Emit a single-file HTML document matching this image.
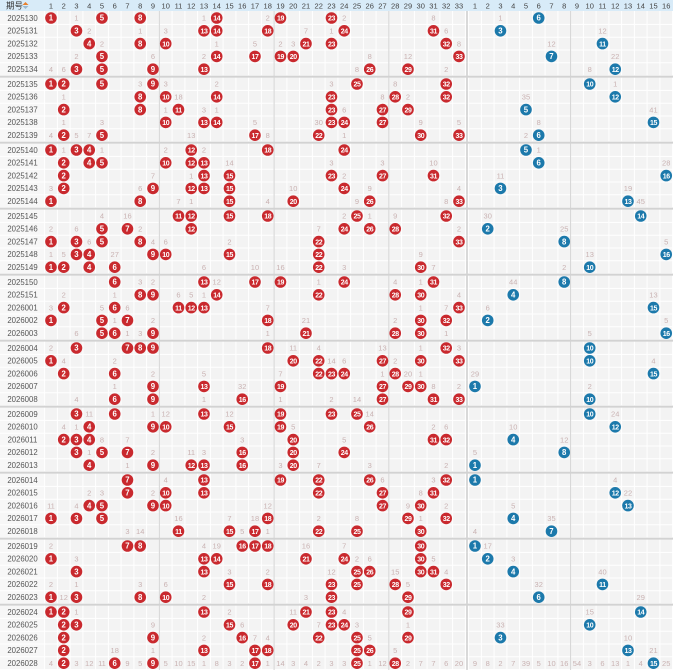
<!DOCTYPE html>
<html><head><meta charset="utf-8"><style>
html,body{margin:0;padding:0;background:#fff;}
svg{display:block;font-family:"Liberation Sans","Noto Sans CJK SC",sans-serif;}
</style></head><body>
<svg id="chart" width="686" height="670" viewBox="0 0 686 670" xmlns="http://www.w3.org/2000/svg"></svg>
<script>
const periods=["2025130","2025131","2025132","2025133","2025134","2025135","2025136","2025137","2025138","2025139","2025140","2025141","2025142","2025143","2025144","2025145","2025146","2025147","2025148","2025149","2025150","2025151","2026001","2026002","2026003","2026004","2026005","2026006","2026007","2026008","2026009","2026010","2026011","2026012","2026013","2026014","2026015","2026016","2026017","2026018","2026019","2026020","2026021","2026022","2026023","2026024","2026025","2026026","2026027","2026028"];
const reds=[[1,5,8,14,19,23],[3,13,14,18,24,31],[4,8,10,21,23,32],[5,14,17,19,20,33],[3,5,9,13,26,29],[1,2,5,9,25,32],[8,10,14,23,28,32],[2,8,11,23,27,29],[10,13,14,23,24,27],[2,5,17,22,30,33],
[1,3,4,12,18,24],[2,4,5,10,12,13],[2,13,15,23,27,31],[2,9,12,13,15,24],[1,8,15,20,26,33],[11,12,15,18,25,32],[5,7,12,24,26,28],[1,3,5,8,22,33],[3,4,9,10,15,22],[1,2,4,6,22,30],
[6,13,17,19,24,31],[8,9,14,22,28,30],[2,6,11,12,13,33],[1,5,7,18,30,32],[5,6,9,21,28,30],[3,7,8,9,18,32],[1,20,22,27,30,33],[2,6,22,23,24,28],[9,13,19,27,29,30],[6,9,16,27,31,33],
[3,6,13,19,23,25],[4,9,10,15,19,26],[2,3,4,20,31,32],[3,5,7,16,20,24],[4,9,12,13,16,20],[7,13,19,22,26,32],[7,10,13,22,27,31],[4,5,9,10,27,30],[1,3,5,18,29,32],[11,15,17,22,25,30],
[7,8,16,17,18,30],[1,13,14,21,24,30],[3,13,25,26,30,31],[15,18,23,25,28,32],[1,3,8,10,23,29],[1,2,13,21,23,29],[2,3,15,20,23,24],[2,9,16,22,25,29],[2,13,17,18,25,26],[2,6,9,17,25,28]];
const blues=[6,3,11,7,12,10,12,5,15,6,5,6,16,3,13,14,2,8,16,10,8,4,15,2,16,10,10,15,1,10,10,12,4,8,1,1,12,13,4,7,1,2,4,11,6,14,10,3,13,15];
const redMiss=[[[3,1],[13,1],[18,2],[24,2],[31,8]],[[4,2],[8,1],[10,3],[21,7],[23,1],[32,6]],[[5,2],[14,1],[17,5],[19,2],[20,3],[33,8]],[[3,2],[9,6],[13,2],[26,8],[29,12]],[[1,4],[2,6],[25,8],[32,2]],
[[8,3],[10,3],[14,2],[23,3],[28,8]],[[2,1],[11,18],[27,8],[29,2]],[[10,1],[13,3],[14,1],[24,6]],[[2,1],[5,3],[17,5],[22,30],[30,9],[33,5]],[[1,4],[3,5],[4,7],[12,13],[18,8],[24,1]],
[[2,1],[5,1],[10,2],[13,2]],[[15,14],[23,3],[27,3],[31,10]],[[9,7],[12,1],[24,2]],[[1,3],[8,6],[20,10],[26,9],[33,4]],[[11,7],[12,1],[18,4],[25,9],[32,8]],
[[5,4],[7,16],[24,2],[26,1],[28,9]],[[1,2],[3,6],[8,2],[22,7],[33,2]],[[4,6],[9,4],[10,6],[15,2]],[[1,1],[2,5],[6,27],[30,9]],[[13,6],[17,10],[19,16],[24,3],[31,7]],
[[8,3],[9,2],[14,12],[22,1],[28,4],[30,1]],[[2,2],[6,1],[11,6],[12,5],[13,1],[33,4]],[[1,3],[5,5],[7,6],[18,7],[30,1],[32,7]],[[6,1],[9,2],[21,21],[28,2]],[[3,6],[7,1],[8,3],[18,1],[32,1]],
[[1,2],[20,11],[22,4],[27,13],[30,1],[33,3]],[[2,4],[6,2],[23,14],[24,6],[28,2]],[[9,2],[13,5],[19,7],[27,1],[29,20],[30,1]],[[6,1],[16,32],[31,8],[33,2]],[[3,4],[13,1],[19,1],[23,2],[25,14]],
[[4,11],[9,1],[10,12],[15,12],[26,14]],[[2,4],[3,1],[20,5],[31,2],[32,6]],[[5,8],[7,7],[16,3],[24,5]],[[4,1],[9,2],[12,11],[13,3]],[[7,1],[19,3],[22,7],[26,3],[32,2]],
[[10,4],[27,6],[31,3]],[[4,2],[5,3],[9,2],[30,8]],[[1,11],[3,4],[18,12],[29,9],[32,2]],[[11,16],[15,7],[17,18],[22,2],[25,8],[30,1]],[[7,3],[8,14],[16,5],[18,1]],
[[1,2],[13,4],[14,19],[21,16],[24,7]],[[3,3],[25,2],[26,6],[31,5]],[[15,3],[18,2],[23,12],[28,15],[32,4]],[[1,2],[3,1],[8,3],[10,6],[29,5]],[[2,12],[13,2],[21,3]],
[[3,1],[15,2],[20,11],[24,4]],[[9,9],[16,6],[22,7],[25,3],[29,1]],[[13,2],[17,7],[18,4],[26,5]],[[6,18],[9,1],[28,5]],
[[1,4],[3,3],[4,12],[5,11],[7,9],[8,5],[10,5],[11,10],[12,15],[13,1],[14,8],[15,3],[16,2],[18,1],[19,14],[20,3],[21,4],[22,2],[23,3],[24,3],[26,1],[27,12],[29,2],[30,7],[31,7],[32,6],[33,20]]];
const blueMiss=[[[3,1]],[[11,12]],[[7,12]],[[12,22]],[[10,8]],[[12,1]],[[5,35]],[[15,41]],[[6,8]],[[5,2]],
[[6,1]],[[16,28]],[[3,11]],[[13,19]],[[14,45]],[[2,30]],[[8,25]],[[16,5]],[[10,13]],[[8,2]],
[[4,44]],[[15,13]],[[2,6]],[[16,5]],[[10,5]],[],[[15,4]],[[1,29]],[[10,2]],[],
[[12,24]],[[4,10]],[[8,12]],[[1,5]],[],[[12,4]],[[13,22]],[[4,5]],[[7,35]],[[1,4]],
[[2,17]],[[4,3]],[[11,40]],[[6,32]],[[14,29]],[[10,15]],[[3,33]],[[13,10]],[[15,21]],
[[1,9],[2,8],[3,2],[4,7],[5,39],[6,5],[7,10],[8,16],[9,54],[10,3],[11,6],[12,13],[13,1],[14,4],[16,25]]];
const redLabels=Array.from({length:33},(_,i)=>String(i+1));
const blueLabels=Array.from({length:16},(_,i)=>String(i+1));

const NS="http://www.w3.org/2000/svg";
const svg=document.getElementById('chart');
const CW=12.75, RX0=44.6, BX0=468.6, RH=12.8, Y0=11.6;
const redX=c=>RX0+(c-0.5)*CW;
const blueX=b=>BX0+(b-0.5)*CW;
const rowTop=i=>Y0+i*RH+Math.floor(i/5)*2;
function mk(tag,attrs,parent){const e=document.createElementNS(NS,tag);for(const k in attrs)e.setAttribute(k,attrs[k]);(parent||svg).appendChild(e);return e;}

// header
const hdr=mk('g',{});


mk('rect',{x:0,y:0,width:673,height:11,fill:'#d8ebf8'},hdr);
const ht=mk('text',{x:6,y:8.6,'font-size':8.5,fill:'#333'},hdr);ht.textContent='期号';


mk('path',{d:'M25.5 2 L28.5 5 L22.5 5 Z',fill:'#e8802c'},hdr);
mk('path',{d:'M22.5 6 L28.5 6 L25.5 9 Z',fill:'#9bb8cc'},hdr);
redLabels.forEach((l,i)=>{const t=mk('text',{x:redX(i+1),y:8.5,'font-size':7.5,fill:'#444','text-anchor':'middle'},hdr);t.textContent=l;

});
blueLabels.forEach((l,i)=>{const t=mk('text',{x:blueX(i+1),y:8.5,'font-size':7.5,fill:'#444','text-anchor':'middle'},hdr);t.textContent=l;

});

// body background
const bodyTop=11, bodyBot=670;
mk('rect',{x:0,y:bodyTop,width:44.6,height:bodyBot-bodyTop,fill:'#f7f7f7'});
mk('rect',{x:44.6,y:bodyTop,width:628,height:bodyBot-bodyTop,fill:'#f3f3f3'});
// grid lines
for(let c=0;c<=33;c++) mk('line',{x1:RX0+c*CW,x2:RX0+c*CW,y1:bodyTop,y2:bodyBot,stroke:'#fff','stroke-width':1});
for(let b=0;b<=16;b++) mk('line',{x1:BX0+b*CW,x2:BX0+b*CW,y1:bodyTop,y2:bodyBot,stroke:'#fff','stroke-width':1});
periods.forEach((p,i)=>{const y=rowTop(i)+RH;mk('line',{x1:0,x2:673,y1:y,y2:y,stroke:'#fff','stroke-width':1});});
[9,18,27].forEach(c=>mk('line',{x1:RX0+c*CW,x2:RX0+c*CW,y1:bodyTop,y2:bodyBot,stroke:'#d4d4d4','stroke-width':1}));
mk('line',{x1:467,x2:467,y1:bodyTop,y2:bodyBot,stroke:'#c8c8c8','stroke-width':1.2});
mk('line',{x1:BX0+8*CW,x2:BX0+8*CW,y1:bodyTop,y2:bodyBot,stroke:'#d4d4d4','stroke-width':1});
for(let g=1;g<10;g++){const y=rowTop(g*5)-1;mk('line',{x1:0,x2:673,y1:y,y2:y,stroke:'#d2d2d2','stroke-width':2});}

function ball(cx,cy,v,color,name,parent){
  const g=mk('g',{},parent);
  
  
  mk('circle',{cx:cx,cy:cy,r:5.8,fill:color},g);
  const t=mk('text',{x:cx,y:cy+2.7,'font-size':v>9?7:7.8,'font-weight':'bold',fill:'#fff','text-anchor':'middle','letter-spacing':v>9?-0.4:0},g);
  t.textContent=String(v);
}
function miss(cx,cy,v,parent){
  const t=mk('text',{x:cx,y:cy+2.7,'font-size':7.5,fill:'#c9b2b2','text-anchor':'middle'},parent);
  t.textContent=String(v);
  
  
}
periods.forEach((p,i)=>{
  const cy=rowTop(i)+RH/2;
  const row=mk('g',{});
  
  
  const lt=mk('text',{x:22.5,y:cy+2.8,'font-size':7.8,fill:'#555','text-anchor':'middle'},row);lt.textContent=p;
  
  
  redMiss[i].forEach(([c,v])=>miss(redX(c),cy,v,row));
  blueMiss[i].forEach(([b,v])=>miss(blueX(b),cy,v,row));
  reds[i].forEach(c=>ball(redX(c),cy,c,'#c9292e','red-ball',row));
  ball(blueX(blues[i]),cy,blues[i],'#1c79ab','blue-ball',row);
});
</script>
</body></html>
